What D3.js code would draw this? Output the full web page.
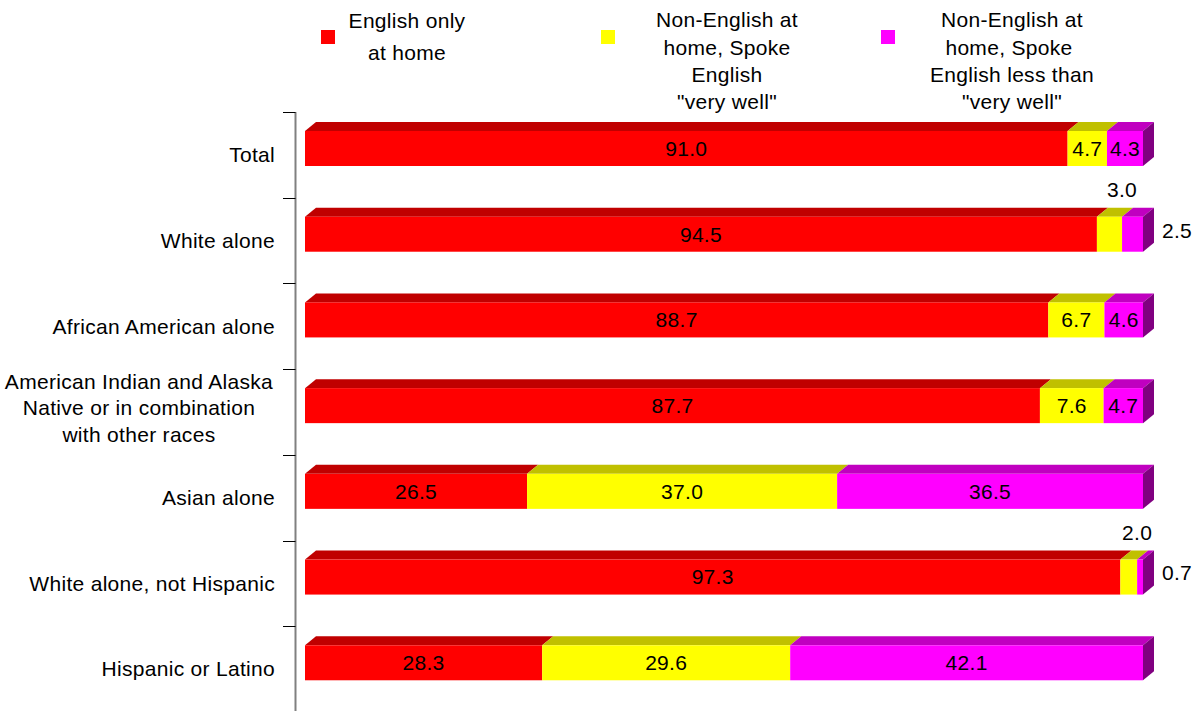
<!DOCTYPE html>
<html><head><meta charset="utf-8">
<script src="https://cdn.jsdelivr.net/npm/d3@7"></script>
<style>body{margin:0;background:#fff}svg{display:block;font-family:"Liberation Sans",Arial,sans-serif}</style>
</head><body>
<svg id="chart" width="1199" height="711"></svg>
<script>
const categories = ["Total","White alone","African American alone","American Indian and Alaska\nNative or in combination\nwith other races","Asian alone","White alone, not Hispanic","Hispanic or Latino"];
const englishOnly = [91.0, 94.5, 88.7, 87.7, 26.5, 97.3, 28.3];
const veryWell = [4.7, 3.0, 6.7, 7.6, 37.0, 2.0, 29.6];
const lessThan = [4.3, 2.5, 4.6, 4.7, 36.5, 0.7, 42.1];
const seriesNames = [["English only","at home"],["Non-English at","home, Spoke","English","\"very well\""],["Non-English at","home, Spoke ","English less than","\"very well\""]];
const seriesValues = [englishOnly, veryWell, lessThan];

const front = ["#FF0000","#FFFF00","#FF00FF"];
const topC = ["#C00000","#C0C000","#C000C0"];
const sideC = ["#800000","#808000","#800080"];

const svg = d3.select("#chart");
const x = d3.scaleLinear().domain([0,100]).range([305,1143]);
const y = d3.scaleBand().domain(categories).range([112,712]).padding(0);
const dx = 11, dy = 9, barOff = 19, barH = 35;
const fs = 21, ls = "0.3px";

// axis
const axisX = 295.5;
svg.append("line").attr("x1",axisX).attr("x2",axisX).attr("y1",112).attr("y2",711).attr("stroke","#808080").attr("stroke-width",2);
svg.selectAll("line.tick").data(categories).join("line").attr("class","tick")
  .attr("x1",283).attr("x2",axisX).attr("y1",d=>Math.round(y(d))+0.5).attr("y2",d=>Math.round(y(d))+0.5)
  .attr("stroke","#000").attr("stroke-width",1);

// category labels
categories.forEach(c=>{
  const lines = c.split("\n");
  const cy = y(c)+y.bandwidth()/2 - (lines.length>1?4:0);
  const g = svg.append("g");
  const ts = lines.map((l,i)=>g.append("text").attr("y",cy+(i-(lines.length-1)/2)*26.5).attr("dy","0.35em").attr("font-size",fs).attr("letter-spacing",ls).attr("fill","#000").text(l));
  if(lines.length===1){ts[0].attr("x",275).attr("text-anchor","end");}
  else{
    const mw = d3.max(ts,t=>t.node().getComputedTextLength());
    ts.forEach(t=>t.attr("x",273-mw/2).attr("text-anchor","middle"));
  }
});

// bars
categories.forEach((c,i)=>{
  const yt = y(c)+barOff, yb = yt+barH;
  let cum = 0;
  const g = svg.append("g");
  seriesValues.forEach((vals,s)=>{
    const v = vals[i];
    const x0 = x(cum), x1 = x(cum+v);
    g.append("path").attr("d",`M${x0},${yt}L${x0+dx},${yt-dy}L${x1+dx},${yt-dy}L${x1},${yt}Z`).attr("fill",topC[s]);
    g.append("rect").attr("x",x0).attr("y",yt).attr("width",x1-x0).attr("height",barH).attr("fill",front[s]);
    cum += v;
  });
  const xe = x(cum);
  g.append("path").attr("d",`M${xe},${yt}L${xe+dx},${yt-dy}L${xe+dx},${yb-dy}L${xe},${yb}Z`).attr("fill",sideC[2]);
  // labels
  cum = 0;
  seriesValues.forEach((vals,s)=>{
    const v = vals[i];
    const x0 = x(cum), x1 = x(cum+v);
    let tx, ty;
    if(v >= 4){ tx=(x0+x1)/2; ty=(yt+yb)/2; }
    else if(s===1){ tx=x1; ty=yt-27; }
    else { tx=xe+dx+23; ty=(yt+yb)/2-4; }
    svg.append("text").attr("x",tx).attr("y",ty).attr("dy","0.35em").attr("text-anchor","middle").attr("font-size",fs).attr("letter-spacing",ls).attr("fill","#000").text(v.toFixed(1));
    cum += v;
  });
});

// legend
const legSq = [321,601,881];
const legTx = [407,727,1012];
const legY = [[21,53],[20,47.5,75,102],[20,47.5,75,102]];
seriesNames.forEach((lines,s)=>{
  svg.append("rect").attr("x",legSq[s]).attr("y",30).attr("width",14).attr("height",14).attr("fill",front[s]);
  lines.forEach((l,k)=>{
    svg.append("text").attr("x",legTx[s]).attr("y",legY[s][k]).attr("dy","0.35em").attr("text-anchor","middle").attr("font-size",fs).attr("letter-spacing",ls).attr("fill","#000").style("white-space","pre").text(l);
  });
});
</script>
</body></html>
